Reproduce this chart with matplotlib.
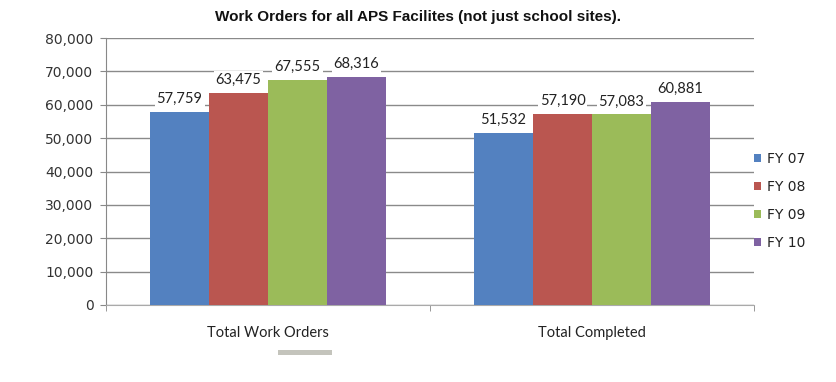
import matplotlib
matplotlib.use("Agg")
import matplotlib.pyplot as plt
import numpy as np
from matplotlib.patches import Rectangle

categories = ["Total Work Orders", "Total Completed"]
series = ["FY 07", "FY 08", "FY 09", "FY 10"]
fy07 = [57759, 51532]
fy08 = [63475, 57190]
fy09 = [67555, 57083]
fy10 = [68316, 60881]
values = [fy07, fy08, fy09, fy10]
colors = ["#5381C0", "#BA5650", "#9BBB59", "#7F62A2"]
yticks = [0, 10000, 20000, 30000, 40000, 50000, 60000, 70000, 80000]

font = ["Lato", "DejaVu Sans"]
fig = plt.figure(figsize=(8.36, 3.82), dpi=100)
ax = fig.add_axes([106/836, 77/382, 648/836, 267/382])

x = np.arange(len(categories))
w = 0.182
for i, (s, vals, c) in enumerate(zip(series, values, colors)):
    pos = x + (i - 1.5) * w
    ax.bar(pos, vals, width=w, color=c, label=s, zorder=3, edgecolor="none")
    for p, v in zip(pos, vals):
        ax.text(p, v + 1800, f"{v:,}", ha="center", va="bottom", fontsize=10.5,
                family=font, color="#222222", zorder=4,
                bbox=dict(facecolor="white", edgecolor="none", pad=1.5))

ax.set_xlim(-0.5, 1.5)
ax.set_ylim(0, 80000)
ax.set_yticks(yticks)
ax.set_yticklabels([f"{t:,}" for t in yticks], fontsize=10, family="DejaVu Sans", color="#333333")
ax.yaxis.grid(True, color="#8a8a8a", linewidth=1.0, zorder=0)
ax.set_xticks(x)
ax.set_xticklabels(categories, fontsize=10.5, family=font, color="#222222")
ax.tick_params(axis="x", length=0, pad=15)
ax.set_xticks([-0.5, 0.5, 1.5], minor=True)
ax.tick_params(axis="x", which="minor", length=4, color="#888888", direction="out")
ax.tick_params(axis="y", length=4, color="#888888", pad=5)
for side in ["top", "right"]:
    ax.spines[side].set_visible(False)
ax.spines["left"].set_color("#888888")
ax.spines["bottom"].set_color("#aaaaaa")

fig.text(418/836, 1 - 17/382, "Work Orders for all APS Facilites (not just school sites).",
         ha="center", va="center", fontsize=11, fontweight="bold",
         family=["Liberation Sans", "DejaVu Sans"], color="#111111")

leg = ax.legend(loc="center left", bbox_to_anchor=(1.0, 0.39), frameon=False,
                prop={"family": "DejaVu Sans", "size": 10}, handlelength=0.5, handleheight=0.5,
                handletextpad=0.45, labelspacing=1.0, borderpad=0, borderaxespad=0)
for t in leg.get_texts():
    t.set_color("#222222")

fig.patches.append(Rectangle((278/836, 1 - 355/382), 54/836, 5/382, transform=fig.transFigure,
                             facecolor="#c4c4bc", edgecolor="none"))

fig.savefig("out.png", dpi=100)
